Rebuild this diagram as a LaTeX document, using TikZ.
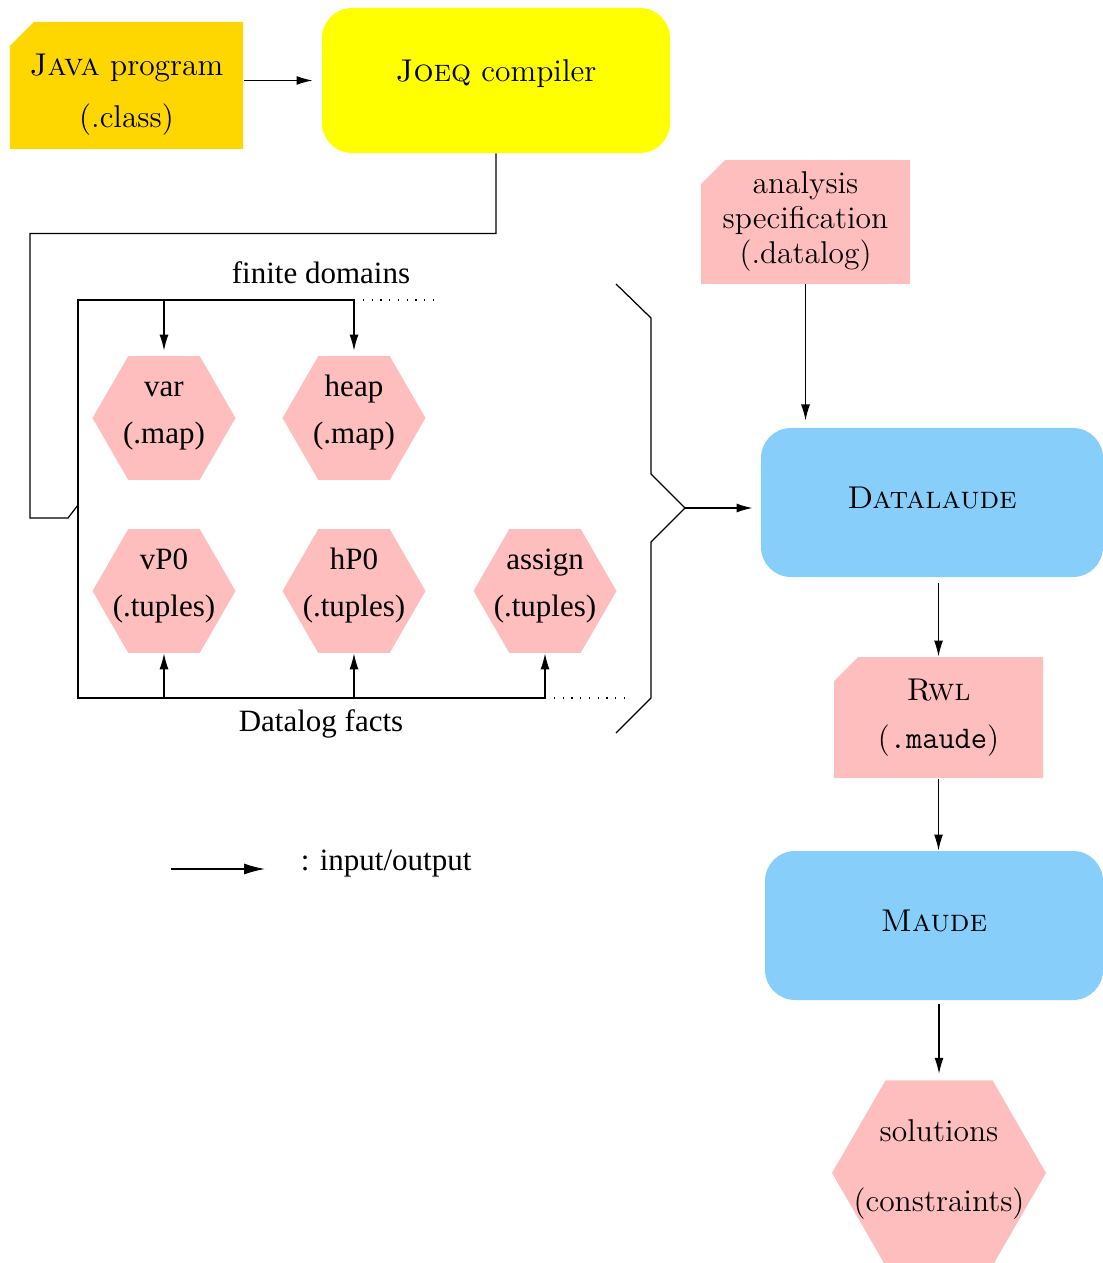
\documentclass[tikz,border=0pt]{standalone}
\usepackage{fontspec}
\newfontfamily\timesfont{Liberation Serif}
\usetikzlibrary{arrows.meta,shapes.geometric,shapes.misc}
\definecolor{javagold}{RGB}{255,215,0}
\definecolor{joeqyellow}{RGB}{255,255,0}
\definecolor{filepink}{RGB}{255,190,190}
\definecolor{toolblue}{RGB}{135,206,250}
\newcommand{\lmtext}{\fontsize{12.6pt}{14pt}\selectfont}
\newcommand{\tmtext}{\fontsize{12.4pt}{14pt}\selectfont\timesfont}
\newcommand{\twolines}[3]{\strut #1\\[#3]\strut #2}
\tikzset{
  io/.style={line width=0.5pt,-{Latex[length=6.4pt,width=3.6pt]}},
  bigio/.style={line width=0.5pt,-{Latex[length=8.4pt,width=4.4pt]}},
  wire/.style={line width=0.5pt},
  dotwire/.style={line width=0.5pt,dash pattern=on 0.5pt off 3pt},
  tool/.style={rectangle,rounded corners=12pt,inner sep=0pt},
  srcfile/.style={chamfered rectangle,chamfered rectangle corners=north west,
    chamfered rectangle xsep=4.8pt,chamfered rectangle ysep=4.8pt,
    fill=filepink,inner sep=0pt,align=center},
  relfile/.style={regular polygon,regular polygon sides=6,fill=filepink,
    inner sep=0pt,minimum size=57.2pt},
  hexlabel/.style={align=center,font=\tmtext,yshift=2pt},
  timeslabel/.style={font=\tmtext}
}
\begin{document}
\begin{tikzpicture}[x=0.4pt,y=-0.4pt,every node/.style={font=\lmtext}]
  \useasboundingbox (0,0) rectangle (1103,1263);

  % Front end
  \node[srcfile,fill=javagold,minimum width=93.2pt,minimum height=50.8pt] (java) at (126.5,85.5) {\rule{0pt}{15.8pt}\textsc{Java} program\\[6.8pt](.class)};
  \node[tool,fill=joeqyellow,minimum width=139.2pt,minimum height=58pt,text depth=8pt] (joeq) at (496,80.5) {\textsc{Joeq} compiler};
  \draw[io,shorten >=3.6pt] (java.east |- joeq.west) -- (joeq.west);

  % Datalog files
  \node[relfile,label={[hexlabel]center:{\twolines{var}{(.map)}{4.8pt}}}] (var) at (164,418) {};
  \node[relfile,label={[hexlabel]center:{\twolines{heap}{(.map)}{4.8pt}}}] (heap) at (354,418) {};
  \node[relfile,label={[hexlabel]center:{\twolines{vP0}{(.tuples)}{4.8pt}}}] (vP0) at (164,591) {};
  \node[relfile,label={[hexlabel]center:{\twolines{hP0}{(.tuples)}{4.8pt}}}] (hP0) at (354,591) {};
  \node[relfile,label={[hexlabel]center:{\twolines{assign}{(.tuples)}{4.8pt}}}] (assign) at (545,591) {};

  \node[timeslabel] (fdlabel) at (321,273) {finite domains};
  \node[timeslabel] (dflabel) at (321,724) {Datalog facts};

  % Frame of the generated files
  \coordinate (fdl) at (78,300);
  \coordinate (dfl) at (78,698);
  \draw[wire] (heap.north |- fdl) -- (fdl) -- (dfl) -- (assign.south |- dfl);
  \draw[dotwire] (heap.north |- fdl) -- ++(82,0);
  \draw[dotwire] (assign.south |- dfl) -- ++(84,0);
  \draw[io,shorten >=2pt] (var.north |- fdl) -- (var.north);
  \draw[io,shorten >=2pt] (heap.north |- fdl) -- (heap.north);
  \draw[io] (vP0.south |- dfl) -- (vP0.south);
  \draw[io] (hP0.south |- dfl) -- (hP0.south);
  \draw[io] (assign.south |- dfl) -- (assign.south);

  % Compiler output
  \draw[wire] (joeq.south) -- ++(0,80) -| (30,518) -- (68,518) -- (78,505);

  % Brace
  \coordinate (brtip) at (685,508);
  \draw[wire] (616,284) -- (651,318) -- (651,474) -- (brtip) -- (651,542) -- (651,698) -- (616,733);

  % Back end
  \node[srcfile,minimum width=83.6pt,minimum height=48.8pt] (spec) at (805.5,222) {analysis\\specification\\(.datalog)};
  \node[tool,fill=toolblue,minimum width=136.8pt,minimum height=59.6pt,text depth=4pt] (datalaude) at (932,502.5) {\textsc{Datalaude}};
  \node[srcfile,minimum width=83.6pt,minimum height=48.4pt] (rwl) at (938.5,717.5) {\textsc{Rwl}\\[5.2pt](\texttt{.maude})};
  \node[tool,fill=toolblue,minimum width=135.2pt,minimum height=59.6pt,text depth=4pt] (maude) at (934,925.5) {\textsc{Maude}};
  \node[relfile,minimum size=85.6pt,label={[hexlabel,font=\lmtext,yshift=-0.6pt]center:{\twolines{solutions}{(constraints)}{14pt}}}] (sol) at (939,1173) {};

  \draw[io,shorten >=3.2pt] (brtip) -- (brtip -| datalaude.west);
  \draw[io,shorten >=2.8pt] (spec.south) -- (spec.south |- datalaude.north);
  \draw[io,shorten <=2pt] (rwl.north |- datalaude.south) -- (rwl.north);
  \draw[io] (rwl.south) -- (rwl.south |- maude.north);
  \draw[io,shorten <=1.2pt,shorten >=2.4pt] (sol.north |- maude.south) -- (sol.north);

  % Legend
  \coordinate (lgs) at (171,869);
  \coordinate (lge) at (265,869);
  \draw[bigio] (lgs) -- (lge);
  \node[timeslabel,anchor=west] (lgtext) at (292,864) {: input/output};
\end{tikzpicture}
\end{document}
